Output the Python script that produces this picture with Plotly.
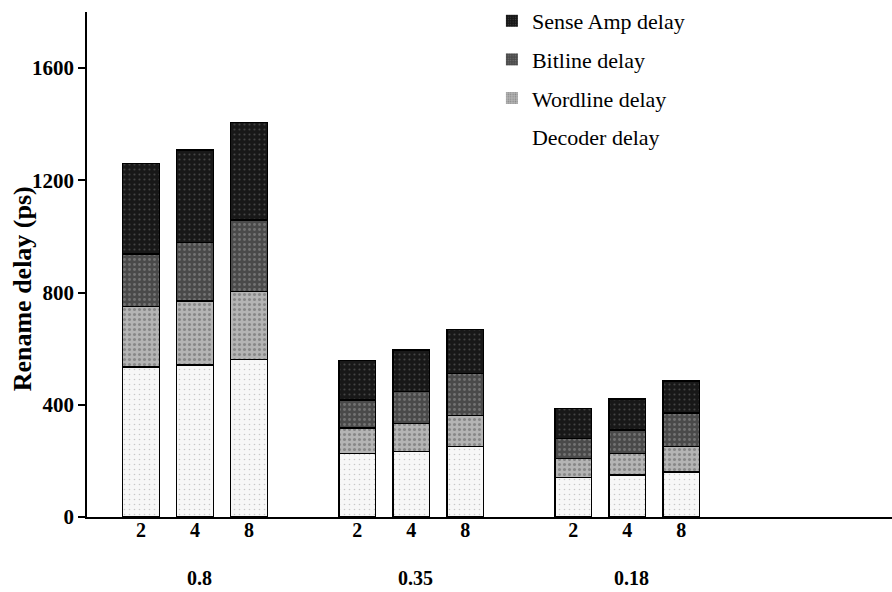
import plotly.graph_objects as go

# ---- data (ps) ----
feature_sizes = ["0.8", "0.35", "0.18"]
issue_widths = ["2", "4", "8"]
x_pos = [0, 1, 2, 4, 5, 6, 8, 9, 10]
decoder = [534, 542, 562, 227, 233, 251, 141, 150, 161]
wordline = [216, 228, 241, 91, 101, 110, 68, 77, 90]
bitline = [187, 208, 255, 99, 113, 151, 71, 83, 119]
sense_amp = [323, 330, 349, 140, 148, 157, 107, 110, 115]
y_ticks = [0, 400, 800, 1200, 1600]
y_title = "Rename delay (ps)"

series = [
    ("Decoder delay", decoder, "#f7f7f7", "#9a9a9a", 0.08),
    ("Wordline delay", wordline, "#b4b4b4", "#5a5a5a", 0.30),
    ("Bitline delay", bitline, "#4a4a4a", "#9c9c9c", 0.25),
    ("Sense Amp delay", sense_amp, "#181818", "#6e6e6e", 0.15),
]

fig = go.Figure()
for name, vals, bg, fg, sol in series:
    fig.add_trace(go.Bar(
        x=x_pos, y=vals, name=name, width=0.68, showlegend=False,
        marker=dict(color=bg, line=dict(color="black", width=1.5),
                    pattern=dict(shape=".", bgcolor=bg, fgcolor=fg,
                                 size=5, solidity=sol)),
    ))
# legend-only entries (no outline, decoder swatch blank like the original)
for name, vals, bg, fg, sol in reversed(series):
    is_dec = name == "Decoder delay"
    fig.add_trace(go.Bar(
        x=[None], y=[None], name=name, legendgroup=name, showlegend=True,
        marker=dict(color="rgba(0,0,0,0)" if is_dec else bg, line=dict(width=0),
                    pattern=dict(shape="" if is_dec else ".",
                                 bgcolor="rgba(0,0,0,0)" if is_dec else bg,
                                 fgcolor=fg, size=3, solidity=sol)),
    ))

group_centers = [1, 5, 9]
for c, lab in zip(group_centers, feature_sizes):
    fig.add_annotation(x=c + 0.08, y=-0.121, xref="x", yref="paper", text=lab,
                       showarrow=False, yanchor="middle",
                       font=dict(family="Liberation Serif", size=20, color="black", weight="bold"))

fig.add_annotation(x=-0.08, y=0.452, xref="paper", yref="paper", text=y_title,
                   textangle=-90, showarrow=False, xanchor="center", yanchor="middle",
                   font=dict(family="Liberation Serif", size=26, color="black", weight="bold"))

fig.update_layout(
    width=892, height=592,
    margin=dict(l=87, r=0, t=12, b=75, autoexpand=False),
    paper_bgcolor="white", plot_bgcolor="white",
    barmode="stack",
    font=dict(family="Liberation Serif", color="black"),
    legend=dict(x=0.503, y=1.006, xref="paper", yref="container",
                xanchor="left", yanchor="top",
                traceorder="reversed+grouped", tracegroupgap=7,
                font=dict(family="Liberation Serif", size=22, color="black"),
                bgcolor="rgba(0,0,0,0)"),
    xaxis=dict(range=[-1.0, 13.9], tickvals=x_pos, ticktext=issue_widths * 3,
               showgrid=False, zeroline=False, showline=True, linecolor="black",
               linewidth=2, ticks="", ticklen=0, ticklabelstandoff=-6,
               tickfont=dict(family="Liberation Serif", size=20, color="black", weight="bold")),
    yaxis=dict(range=[0, 1800], tickvals=y_ticks, showgrid=False, zeroline=False,
               showline=True, linecolor="black", linewidth=1.5, ticks="outside",
               ticklen=7, tickwidth=1.5, tickcolor="black",
               tickfont=dict(family="Liberation Serif", size=21, color="black", weight="bold")),
)

fig.write_html("out.html", config={"displayModeBar": False},
               post_script="document.body.style.margin='0';")
